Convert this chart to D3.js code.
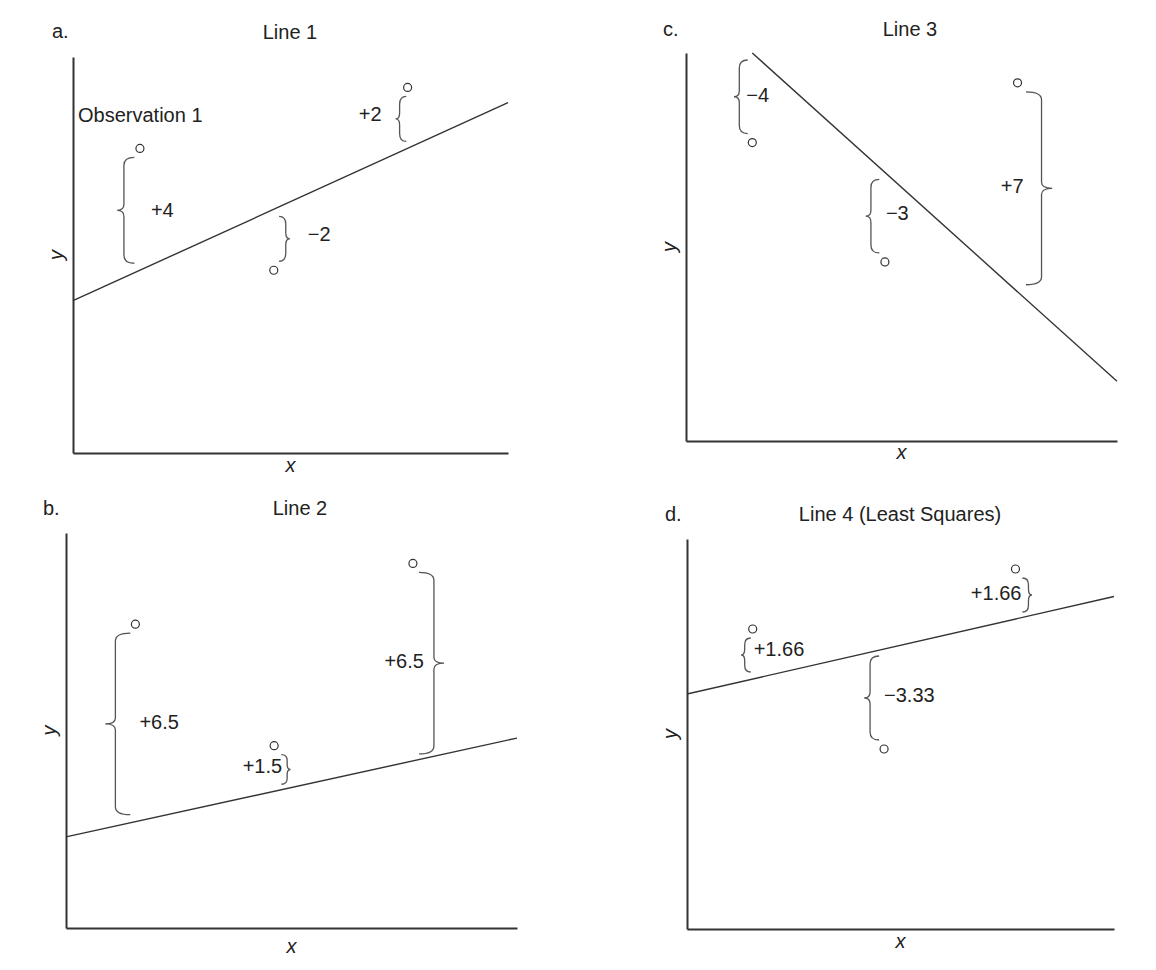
<!DOCTYPE html>
<html>
<head>
<meta charset="utf-8">
<script src="https://cdn.jsdelivr.net/npm/d3@7"></script>
<style>
  html, body { margin: 0; padding: 0; background: #fff; }
  svg text { font-family: "Liberation Sans", Arial, Helvetica, sans-serif; fill: #222; }
</style>
</head>
<body>
<svg id="chart" width="1156" height="970"></svg>
<script>
// ---------------- data ----------------
const xDomain = [0, 6.5];
const yDomain = [0, 13];
const obsX = [1, 3, 5];
const obsY = [10, 6, 12];
const panelLetters = ["a.", "b.", "c.", "d."];
const panelTitles = ["Line 1", "Line 2", "Line 3", "Line 4 (Least Squares)"];
const lineIntercepts = [5, 3, 15, 7.8333];
const lineSlopes = [1, 0.5, -2, 0.5];
const residualLabels = [
  ["+4", "\u22122", "+2"],
  ["+6.5", "+1.5", "+6.5"],
  ["\u22124", "\u22123", "+7"],
  ["+1.66", "\u22123.33", "+1.66"]
];
const axisLabelX = "x";
const axisLabelY = "y";
const observationNote = "Observation 1";

// ---------------- layout (pixels) ----------------
const frames = [
  { l: 73,  t: 57,  r: 508,  b: 453, letter: [52, 38],  title: [290, 39],  xlab: 19 },
  { l: 66,  t: 533, r: 517,  b: 928, letter: [43, 515], title: [300, 515], xlab: 25 },
  { l: 686, t: 53,  r: 1117, b: 441, letter: [663, 36], title: [910, 36],  xlab: 18 },
  { l: 687, t: 539, r: 1114, b: 929, letter: [665, 521], title: [900, 521], xlab: 19 }
];
// brace bar offset from point (px), label dx from bar (+ = start-anchored right, - = end-anchored left), label dy from brace middle
const braceLayout = [
  [{ off: -16, ldx: 27, ldy: 0 }, { off: 12, ldx: 22, ldy: -5 }, { off: -8, ldx: -18, ldy: -5 }],
  [{ off: -20, ldx: 24, ldy: -2 }, { off: 13, ldx: -5, ldy: -3 }, { off: 21, ldx: -10, ldy: -2 }],
  [{ off: -13, ldx: 7, ldy: -2 }, { off: -14, ldx: 15, ldy: -3 }, { off: 24, ldx: -18, ldy: -2 }],
  [{ off: -8, ldx: 9, ldy: -6 }, { off: -14, ldx: 14, ldy: -3 }, { off: 13, ldx: -7, ldy: -2 }]
];
const FONT = 20;
const gapPoint = 9, gapLine = 7;

const svg = d3.select("#chart");

function bracePath(bx, y1, y2, dir) {
  const len = y2 - y1;
  const hook = 4 + len * 0.06;
  const tip = 2 + len * 0.045;
  const r = Math.min(8, len / 5);
  const ym = (y1 + y2) / 2;
  const r2 = Math.min(6, len / 6);
  const p = d3.path();
  p.moveTo(bx - dir * hook, y1);
  p.quadraticCurveTo(bx, y1, bx, y1 + r);
  p.lineTo(bx, ym - r2);
  p.quadraticCurveTo(bx, ym, bx + dir * tip, ym);
  p.quadraticCurveTo(bx, ym, bx, ym + r2);
  p.lineTo(bx, y2 - r);
  p.quadraticCurveTo(bx, y2, bx - dir * hook, y2);
  return p.toString();
}

frames.forEach((f, i) => {
  const g = svg.append("g");
  const xs = d3.scaleLinear().domain(xDomain).range([f.l, f.r]);
  const ys = d3.scaleLinear().domain(yDomain).range([f.b, f.t]);

  // axes (domain lines only)
  const ax = g.append("g").attr("transform", `translate(0,${f.b})`)
    .call(d3.axisBottom(xs).ticks(0).tickSizeOuter(0));
  const ay = g.append("g").attr("transform", `translate(${f.l},0)`)
    .call(d3.axisLeft(ys).ticks(0).tickSizeOuter(0));
  [ax, ay].forEach(a => {
    a.selectAll(".tick").remove();
    a.select(".domain").attr("stroke", "#333").attr("stroke-width", 2);
  });

  // letters & titles
  g.append("text").attr("x", f.letter[0]).attr("y", f.letter[1])
    .attr("font-size", FONT).text(panelLetters[i]);
  g.append("text").attr("x", f.title[0]).attr("y", f.title[1])
    .attr("text-anchor", "middle").attr("font-size", FONT).text(panelTitles[i]);

  // axis labels
  g.append("text").attr("x", (f.l + f.r) / 2).attr("y", f.b + f.xlab)
    .attr("text-anchor", "middle").attr("font-size", FONT).attr("font-style", "italic")
    .text(axisLabelX);
  g.append("text")
    .attr("transform", `translate(${f.l - 17},${(f.t + f.b) / 2}) rotate(-90)`)
    .attr("text-anchor", "middle").attr("dy", "0.35em")
    .attr("font-size", FONT).attr("font-style", "italic").text(axisLabelY);

  // fitted line, clipped to y-domain
  const b0 = lineIntercepts[i], m = lineSlopes[i];
  const fy = x => b0 + m * x;
  let x0 = xDomain[0], x1 = xDomain[1];
  if (m < 0 && fy(x0) > yDomain[1]) x0 = (yDomain[1] - b0) / m;
  if (m > 0 && fy(x1) > yDomain[1]) x1 = (yDomain[1] - b0) / m;
  const line = d3.line().x(d => xs(d)).y(d => ys(fy(d)));
  g.append("path").attr("d", line([x0, x1]))
    .attr("fill", "none").attr("stroke", "#333").attr("stroke-width", 1.4);

  // braces and residual labels
  obsX.forEach((ox, k) => {
    const L = braceLayout[i][k];
    const px = xs(ox), py = ys(obsY[k]), ly = ys(fy(ox));
    const dir = L.off < 0 ? -1 : 1;
    const bx = px + L.off;
    let y1, y2;
    if (py < ly) { y1 = py + gapPoint; y2 = ly - gapLine; }
    else { y1 = ly + gapLine; y2 = py - gapPoint; }
    y1 = Math.max(y1, f.t + 5);
    g.append("path").attr("d", bracePath(bx, y1, y2, dir))
      .attr("fill", "none").attr("stroke", "#555").attr("stroke-width", 1.3);
    const ym = (y1 + y2) / 2;
    g.append("text")
      .attr("x", bx + L.ldx).attr("y", ym + L.ldy).attr("dy", "0.35em")
      .attr("text-anchor", L.ldx >= 0 ? "start" : "end")
      .attr("font-size", FONT).text(residualLabels[i][k]);
  });

  // observation points
  g.selectAll("circle").data(obsX).join("circle")
    .attr("cx", d => xs(d)).attr("cy", (d, k) => ys(obsY[k]))
    .attr("r", 4).attr("fill", "#fff").attr("stroke", "#333").attr("stroke-width", 1.2);

  if (i === 0) {
    g.append("text").attr("x", 78).attr("y", 122).attr("font-size", FONT).text(observationNote);
  }
});
</script>
</body>
</html>
